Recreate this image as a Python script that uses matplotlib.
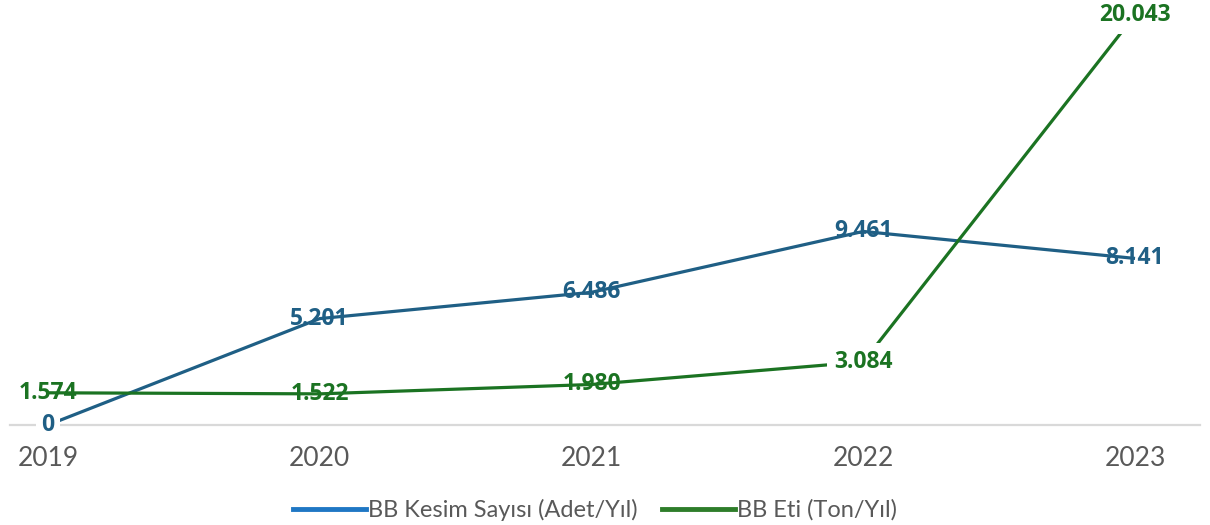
import matplotlib.pyplot as plt
from matplotlib.lines import Line2D

years = [2019, 2020, 2021, 2022, 2023]
kesim = [0, 5201, 6486, 9461, 8141]
et = [1574, 1522, 1980, 3084, 20043]
kesim_labels = ["0", "5.201", "6.486", "9.461", "8.141"]
et_labels = ["1.574", "1.522", "1.980", "3.084", "20.043"]

blue = "#1f5f85"
green = "#1b7322"

fig = plt.figure(figsize=(12.1, 5.25), dpi=100)
ax = fig.add_axes([10 / 1210, 100 / 525, 1190 / 1210, 420 / 525])

ax.plot(years, kesim, color=blue, lw=2.3, zorder=3, solid_capstyle="butt")
ax.plot(years, et, color=green, lw=2.3, zorder=3, solid_capstyle="butt")

# etiketler: bazilari beyaz kutulu (cizgiyi kesiyor)
masked = {("k", 0), ("e", 3), ("e", 4)}
for i, (x, y, t) in enumerate(zip(years, kesim, kesim_labels)):
    kw = dict(ha="center", va="center", color=blue, fontsize=16.5,
              fontweight="bold", family="Open Sans", zorder=2)
    if ("k", i) in masked:
        kw.update(bbox=dict(fc="white", ec="none", pad=4), zorder=4)
    ax.text(x, y, t, **kw)
for i, (x, y, t) in enumerate(zip(years, et, et_labels)):
    kw = dict(ha="center", va="center", color=green, fontsize=16.5,
              fontweight="bold", family="Open Sans", zorder=2)
    if ("e", i) in masked:
        kw.update(bbox=dict(fc="white", ec="none", pad=5), zorder=4)
    ax.text(x, y, t, **kw)

ax.set_xlim(2019 - 38 / 272, 2023 + 65 / 272)
ax.set_ylim(0, 20528)
ax.set_xticks(years)
ax.set_xticklabels([str(y) for y in years], fontsize=19, color="#595959", family="Lato")
ax.tick_params(axis="x", length=0, pad=15)
ax.set_yticks([])
for s in ["top", "right", "left"]:
    ax.spines[s].set_visible(False)
ax.spines["bottom"].set_color("#d9d9d9")
ax.spines["bottom"].set_linewidth(1.6)
ax.spines["bottom"].set_zorder(1)

handles = [Line2D([0], [0], color="#1f77c4", lw=3.5),
           Line2D([0], [0], color="#2e7d2a", lw=3.5)]
fig.legend(handles, ["BB Kesim Sayısı (Adet/Yıl)", "BB Eti (Ton/Yıl)"],
           loc="center", bbox_to_anchor=(595 / 1210, 1 - 510 / 525), ncol=2,
           frameon=False, handlelength=3.1, handletextpad=0.1, columnspacing=1.0,
           prop=dict(family="Lato", size=17), labelcolor="#595959")

fig.savefig("out.png", dpi=100)
